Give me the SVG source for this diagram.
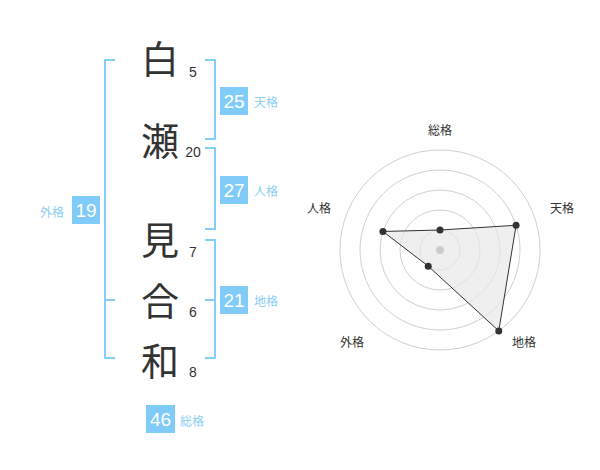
<svg xmlns="http://www.w3.org/2000/svg" width="600" height="470" viewBox="0 0 600 470">
<style>
.ch{font-family:"Noto Sans CJK JP","Liberation Sans",sans-serif;font-size:38px;fill:#333;text-anchor:middle}
.st{font-family:"Liberation Sans","Noto Sans CJK JP",sans-serif;font-size:14px;fill:#333;text-anchor:middle}
.br{fill:none;stroke:#85cdf9;stroke-width:2}
.box{fill:#80cbf8}
.bn{font-family:"Liberation Sans","Noto Sans CJK JP",sans-serif;font-size:19px;fill:#fff;text-anchor:middle}
.bl{font-family:"Noto Sans CJK JP","Liberation Sans",sans-serif;font-size:12px;fill:#8ccdf5}
.ring{fill:none;stroke:#d0d0d0;stroke-width:1}
.rl{font-family:"Noto Sans CJK JP","Liberation Sans",sans-serif;font-size:12px;fill:#333;text-anchor:middle}
.pt{fill:#333}
</style>
<rect width="600" height="470" fill="#fff"/>
<g id="connectors">
<path class="br" d="M115,60 H105 V358 H115 M105,300 H115"/>
<path class="br" d="M205,60 H215 V139 H205"/>
<path class="br" d="M205,148 H215 V229 H205"/>
<path class="br" d="M205,240 H215 V358 H205 M205,300 H215"/>
</g>
<g id="char-1"><text class="ch" x="160" y="73">白</text><text class="st" x="193" y="77">5</text></g>
<g id="char-2"><text class="ch" x="160" y="155">瀬</text><text class="st" x="193" y="157">20</text></g>
<g id="char-3"><text class="ch" x="160" y="254">見</text><text class="st" x="193" y="257">7</text></g>
<g id="char-4"><text class="ch" x="160" y="315">合</text><text class="st" x="193" y="317">6</text></g>
<g id="char-5"><text class="ch" x="160" y="375">和</text><text class="st" x="193" y="377">8</text></g>
<g id="tenkaku"><rect class="box" x="220" y="87" width="28" height="28"/><text class="bn" x="234" y="108">25</text><text class="bl" x="254" y="107">天格</text></g>
<g id="jinkaku"><rect class="box" x="220" y="176" width="28" height="28"/><text class="bn" x="234" y="197">27</text><text class="bl" x="254" y="196">人格</text></g>
<g id="chikaku"><rect class="box" x="220" y="286" width="28" height="28"/><text class="bn" x="234" y="307">21</text><text class="bl" x="254" y="306">地格</text></g>
<g id="gaikaku"><rect class="box" x="72" y="196" width="28" height="28"/><text class="bn" x="86" y="217">19</text><text class="bl" x="40" y="217">外格</text></g>
<g id="soukaku"><rect class="box" x="146" y="405" width="29" height="28"/><text class="bn" x="160.5" y="426">46</text><text class="bl" x="180" y="426">総格</text></g>
<g id="radar">
<circle class="ring" cx="440" cy="250" r="20"/>
<circle class="ring" cx="440" cy="250" r="40"/>
<circle class="ring" cx="440" cy="250" r="60"/>
<circle class="ring" cx="440" cy="250" r="80"/>
<circle class="ring" cx="440" cy="250" r="100"/>
<polygon points="440,230 516.08,225.28 498.78,330.9 428.24,266.18 382.94,231.46" fill="#e8e8e8" fill-opacity="0.7" stroke="#333" stroke-width="1"/>
<circle cx="440" cy="250" r="4" fill="#ccc"/>
<circle class="pt" cx="440" cy="230" r="3.5"/>
<circle class="pt" cx="516.08" cy="225.28" r="3.5"/>
<circle class="pt" cx="498.78" cy="330.9" r="3.5"/>
<circle class="pt" cx="428.24" cy="266.18" r="3.5"/>
<circle class="pt" cx="382.94" cy="231.46" r="3.5"/>
<text class="rl" x="440" y="135">総格</text>
<text class="rl" x="562" y="213">天格</text>
<text class="rl" x="524" y="347">地格</text>
<text class="rl" x="352" y="347">外格</text>
<text class="rl" x="319" y="213">人格</text>
</g>
</svg>
